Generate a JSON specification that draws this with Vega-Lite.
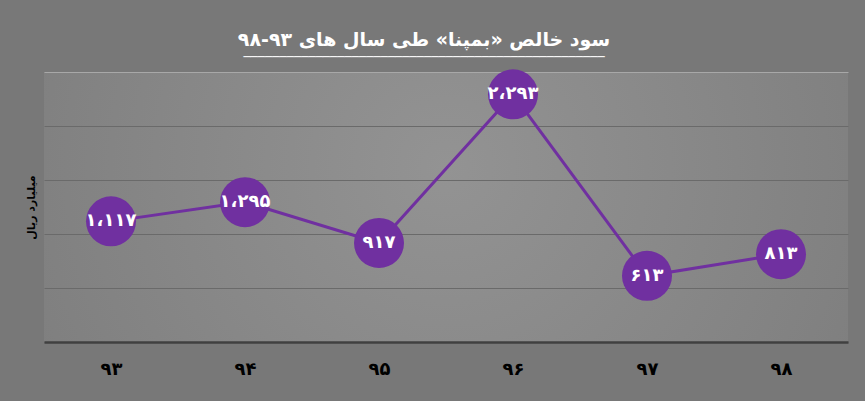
{
  "$schema": "https://vega.github.io/schema/vega-lite/v6.json",
  "width": 804,
  "height": 270,
  "autosize": {"type": "none"},
  "padding": {"left": 44, "top": 72, "right": 17, "bottom": 59},
  "background": "#787878",
  "config": {
    "view": {
      "stroke": null,
      "fill": {
        "gradient": "radial",
        "x1": 0.5, "y1": 0.45, "r1": 0,
        "x2": 0.5, "y2": 0.45, "r2": 0.75,
        "stops": [
          {"offset": 0, "color": "#939393"},
          {"offset": 1, "color": "#787878"}
        ]
      }
    },
    "font": "DejaVu Sans"
  },
  "title": {
    "text": "سود خالص «بمپنا» طی سال های ۹۳-۹۸",
    "subtitle": "──────────────────────────────────────────────────",
    "subtitleColor": "#ffffff",
    "subtitleFont": "DejaVu Sans",
    "subtitleFontSize": 12,
    "subtitlePadding": 2,
    "color": "#ffffff",
    "font": "DejaVu Sans",
    "fontSize": 19,
    "fontWeight": "bold",
    "anchor": "middle",
    "frame": "group",
    "dx": -22,
    "offset": 6
  },
  "data": {
    "values": [
      {"year": "۹۳", "value": 1117, "label": "۱،۱۱۷"},
      {"year": "۹۴", "value": 1295, "label": "۱،۲۹۵"},
      {"year": "۹۵", "value": 917, "label": "۹۱۷"},
      {"year": "۹۶", "value": 2293, "label": "۲،۲۹۳"},
      {"year": "۹۷", "value": 613, "label": "۶۱۳"},
      {"year": "۹۸", "value": 813, "label": "۸۱۳"}
    ]
  },
  "encoding": {
    "x": {
      "field": "year",
      "type": "ordinal",
      "sort": null,
      "scale": {"padding": 0.5},
      "axis": {
        "title": null,
        "labelAngle": 0,
        "labelFont": "DejaVu Sans",
        "labelFontSize": 18,
        "labelFontWeight": "bold",
        "labelColor": "#000000",
        "labelPadding": 18,
        "ticks": false,
        "domain": true,
        "domainColor": "#404040",
        "domainWidth": 2.5,
        "grid": false
      }
    },
    "y": {
      "field": "value",
      "type": "quantitative",
      "scale": {"domain": [0, 2500], "nice": false},
      "axis": {
        "title": "میلیارد ریال",
        "titleFont": "DejaVu Sans",
        "titleFontSize": 11,
        "titleFontWeight": "bold",
        "titleColor": "#000000",
        "titlePadding": 8,
        "values": [0, 500, 1000, 1500, 2000, 2500],
        "labels": false,
        "ticks": false,
        "domain": false,
        "grid": true,
        "gridColor": {"condition": {"test": "datum.value === 2500", "value": "#a8a8a8"}, "value": "#6a6a6a"},
        "gridWidth": 1
      }
    }
  },
  "layer": [
    {
      "mark": {"type": "line", "color": "#7030a0", "strokeWidth": 3}
    },
    {
      "mark": {"type": "point", "filled": true, "opacity": 1, "color": "#7030a0", "size": 2500}
    },
    {
      "mark": {"type": "text", "color": "#ffffff", "font": "DejaVu Sans", "fontSize": 18, "fontWeight": "bold", "baseline": "middle", "align": "center"},
      "encoding": {"text": {"field": "label"}}
    }
  ]
}
